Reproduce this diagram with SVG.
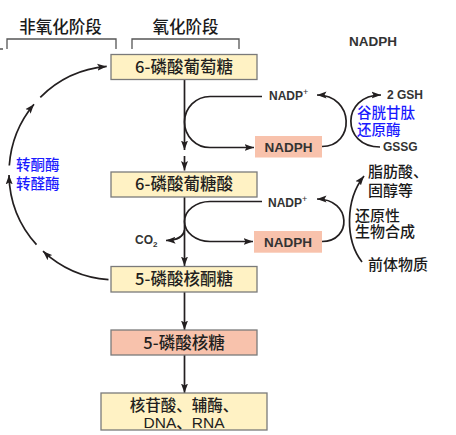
<svg xmlns="http://www.w3.org/2000/svg" width="456" height="435" viewBox="0 0 456 435">
<defs>
<marker id="ah" markerWidth="10" markerHeight="8" refX="9.5" refY="4" orient="auto" markerUnits="userSpaceOnUse">
<path d="M0,0.5 L9.5,4 L0,7.5 L2,4 Z" fill="#231f20"/>
</marker>
<style>
.box{fill:#fff2c4;stroke:#7a7a7a;stroke-width:1.3}
.pink{fill:#f8c2ac;stroke:#7a7a7a;stroke-width:1.3}
.pk{fill:#f8c2ac}
.cn{font-family:"Noto Sans CJK SC",sans-serif;font-weight:500;fill:#1a1a1a}
.bt{font-family:"Noto Sans CJK SC",sans-serif;font-weight:500;fill:#231f20;font-size:16.5px;text-anchor:middle}
.bt2{font-family:"Liberation Sans","Noto Sans CJK SC",sans-serif;font-weight:500;fill:#231f20;font-size:15.5px;text-anchor:middle}
.bl{font-family:"Liberation Sans","Noto Sans CJK SC",sans-serif;font-weight:500;fill:#1a1aff;font-size:14.5px}
.rt{font-family:"Liberation Sans","Noto Sans CJK SC",sans-serif;font-weight:500;fill:#1a1a1a;font-size:15px}
.lt{font-family:"Liberation Sans",Arial,sans-serif;font-weight:bold;fill:#333}
.ln{fill:none;stroke:#231f20;stroke-width:1.7}
.br{fill:none;stroke:#555;stroke-width:1.3}
</style>
</defs>

<g id="headers">
<path class="br" d="M0 49 H3 M7 49 V39 H116 V49 M132 49 V39 H239 V49"/>
<text class="cn" x="60.5" y="32.8" font-size="16.5" text-anchor="middle">非氧化阶段</text>
<text class="cn" x="185.5" y="32.8" font-size="16.5" text-anchor="middle">氧化阶段</text>
<text class="lt" x="349" y="45.6" font-size="13.5">NADPH</text>
</g>

<g id="connectors">
<path class="ln" d="M184.5 79.5 V150" marker-end="url(#ah)"/>
<path class="ln" d="M184.5 156 V170.5" marker-end="url(#ah)"/>
<path class="ln" d="M184.5 197 V266" marker-end="url(#ah)"/>
<path class="ln" d="M184.5 292 V330" marker-end="url(#ah)"/>
<path class="ln" d="M184.5 355 V393" marker-end="url(#ah)"/>
<path class="ln" d="M262 96.5 H210 A25.5 25.5 0 0 0 210 147.5 H254" marker-end="url(#ah)"/>
<path class="ln" d="M322 146.5 C355 146.5 355 95 317 95" marker-end="url(#ah)"/>
<path class="ln" d="M380 147 C341 147 341 95 381 95" marker-end="url(#ah)"/>
<path class="ln" d="M262 201.5 H210 A25.5 20 0 0 0 210 241.5 H253" marker-end="url(#ah)"/>
<path class="ln" d="M184.5 230 Q183 240 166 240.5" marker-end="url(#ah)"/>
<path class="ln" d="M322 241.5 C352 241.5 352 199 317 199" marker-end="url(#ah)"/>
<path class="ln" d="M362 262 C345 240 345 200 364 176" marker-end="url(#ah)"/>
<path class="ln" d="M108.5 279.7 A107 107 0 0 1 43 251.2" marker-end="url(#ah)"/>
<path class="ln" d="M36.5 244.6 A107 107 0 0 1 9 174.9" marker-end="url(#ah)"/>
<path class="ln" d="M9.3 165.5 A107 107 0 0 1 34 104.2" marker-end="url(#ah)"/>
<path class="ln" d="M40.3 97.3 A107 107 0 0 1 106.7 66.4" marker-end="url(#ah)"/>
</g>

<g id="n-g6p">
<rect class="box" x="111" y="54.5" width="146" height="25"/>
<text class="bt" x="184" y="72.8">6-磷酸葡萄糖</text>
</g>
<g id="n-6pg">
<rect class="box" x="111" y="172" width="146" height="25"/>
<text class="bt" x="184" y="190">6-磷酸葡糖酸</text>
</g>
<g id="n-ru5p">
<rect class="box" x="111" y="266.5" width="146" height="25.5"/>
<text class="bt" x="184" y="285">5-磷酸核酮糖</text>
</g>
<g id="n-r5p">
<rect class="pink" x="111" y="330" width="146" height="25"/>
<text class="bt" x="184" y="348.5">5-磷酸核糖</text>
</g>
<g id="n-products">
<rect class="box" x="101" y="393" width="166" height="37"/>
<text class="bt2" x="184" y="410.5">核苷酸、辅酶、</text>
<text class="bt2" x="184" y="427.5">DNA、RNA</text>
</g>

<g id="n-nadph1">
<rect class="pk" x="255" y="136" width="67" height="21.5"/>
<text class="lt" x="288.5" y="151.6" font-size="13.5" text-anchor="middle">NADPH</text>
</g>
<g id="n-nadp1">
<text class="lt" x="269" y="99.5" font-size="12">NADP<tspan font-size="9" dy="-5" font-weight="normal">+</tspan></text>
</g>
<g id="n-gsh">
<text class="lt" x="387" y="99.3" font-size="12">2 GSH</text>
</g>
<g id="n-gssg">
<text class="lt" x="383" y="151" font-size="12">GSSG</text>
</g>
<g id="n-gr">
<text class="bl" x="357" y="118">谷胱甘肽</text>
<text class="bl" x="357" y="135.4">还原酶</text>
</g>

<g id="n-nadph2">
<rect class="pk" x="254" y="231" width="68" height="21.7"/>
<text class="lt" x="288" y="246.8" font-size="13.5" text-anchor="middle">NADPH</text>
</g>
<g id="n-nadp2">
<text class="lt" x="268" y="207" font-size="12">NADP<tspan font-size="9" dy="-5" font-weight="normal">+</tspan></text>
</g>
<g id="n-co2">
<text class="lt" x="135" y="244.3" font-size="12">CO<tspan font-size="8" dy="3">2</tspan></text>
</g>

<g id="n-bio">
<text class="rt" x="368" y="177.3">脂肪酸、</text>
<text class="rt" x="368" y="196.3">固醇等</text>
<text class="rt" x="355" y="220.6">还原性</text>
<text class="rt" x="355" y="237.3">生物合成</text>
<text class="rt" x="368" y="269.6">前体物质</text>
</g>

<g id="n-enz">
<text class="bl" x="16" y="170.4">转酮酶</text>
<text class="bl" x="16" y="188.7">转醛酶</text>
</g>
</svg>
